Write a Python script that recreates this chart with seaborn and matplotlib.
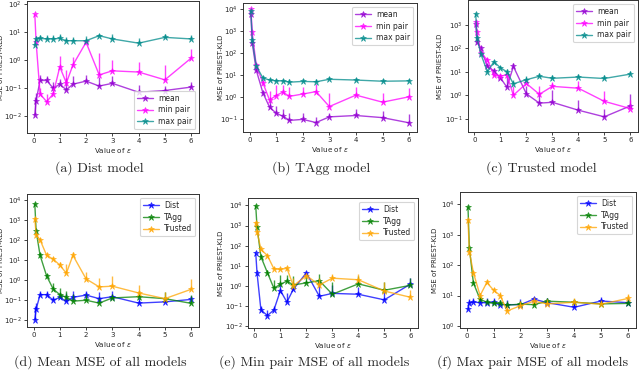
import numpy as np
import matplotlib
matplotlib.use("Agg")
import matplotlib.pyplot as plt
import seaborn as sns

sns.set_theme(style="ticks", context="paper")
plt.rcParams['font.family'] = ['DejaVu Sans']

eps = [0.05, 0.1, 0.25, 0.5, 0.75, 1, 1.25, 1.5, 2, 2.5, 3, 4, 5, 6]

# Dist model
dist_mean = [0.011, 0.036, 0.19, 0.19, 0.10, 0.14, 0.087, 0.14, 0.18, 0.12, 0.15, 0.072, 0.083, 0.11]
dist_mean_up = [0.05, 0.07, 0.3, 0.28, 0.17, 0.22, 0.23, 0.28, 0.3, 0.25, 0.28, 0.13, 0.12, 0.17]
dist_min = [44, 4.4, 0.063, 0.033, 0.063, 0.58, 0.155, 0.68, 4.4, 0.30, 0.42, 0.38, 0.2, 1.2]
dist_min_up = [44, 4.4, 0.1, 0.06, 0.1, 1.4, 0.45, 1.3, 5.0, 1.8, 1.05, 0.87, 0.66, 2.5]
dist_max = [3.5, 5.8, 6.1, 5.8, 5.8, 6.1, 5.0, 5.0, 5.0, 7.6, 5.8, 4.1, 6.6, 5.8]
dist_max_up = [4.0, 7.5, 8, 8, 8, 8.5, 7, 7, 7.5, 9, 8.5, 6.5, 9, 8]

# TAgg model
tagg_mean = [6000, 280, 17, 1.6, 0.36, 0.19, 0.14, 0.09, 0.1, 0.072, 0.13, 0.15, 0.12, 0.07]
tagg_mean_up = [7000, 350, 22, 2.0, 0.75, 0.4, 0.3, 0.2, 0.2, 0.13, 0.2, 0.3, 0.25, 0.18]
tagg_min = [9500, 850, 28, 4.5, 0.75, 1.2, 1.7, 1.1, 1.4, 1.8, 0.38, 1.25, 0.6, 1.05]
tagg_min_up = [10000, 1000, 35, 6, 2.0, 3.5, 3.5, 3.0, 3.0, 4.0, 1.5, 3.0, 1.6, 2.5]
tagg_max = [8000, 380, 26, 7.5, 6.0, 5.5, 5.5, 4.8, 5.2, 5.0, 6.5, 6.0, 5.3, 5.5]
tagg_max_up = [9000, 450, 30, 9, 7.5, 7, 7, 6.5, 6.5, 6.5, 8, 7.5, 6.8, 7]

# Trusted model
trus_mean = [1100, 180, 100, 17, 11, 5.6, 2.2, 17, 1.15, 0.46, 0.5, 0.23, 0.12, 0.35]
trus_mean_up = [1300, 220, 130, 22, 14, 8, 6, 25, 2.5, 1.3, 1.6, 0.6, 0.25, 1.1]
trus_min = [1400, 500, 65, 32, 7, 6.5, 7.5, 1.0, 3.2, 1.1, 2.4, 2.0, 0.55, 0.27]
trus_min_up = [1600, 600, 80, 40, 9, 8, 9, 2.5, 4.5, 2.5, 3.8, 4.0, 1.5, 0.6]
trus_max = [3000, 280, 57, 10, 27, 15, 10, 3.1, 4.6, 6.5, 5.3, 6.0, 5.2, 8.0]
trus_max_up = [3400, 330, 65, 12, 32, 18, 13, 4.5, 6.5, 9, 7.5, 8, 7, 11]

stat_labels = ['mean', 'min pair', 'max pair']
stat_colors = ['darkviolet', 'magenta', 'darkcyan']
model_labels = ['Dist', 'TAgg', 'Trusted']
model_colors = ['blue', 'green', 'orange']

captions = ['(a) Dist model', '(b) TAgg model', '(c) Trusted model',
            '(d) Mean MSE of all models', '(e) Min pair MSE of all models',
            '(f) Max pair MSE of all models']

W, H = 640, 371
fig = plt.figure(figsize=(W / 100, H / 100), dpi=100)


def px_axes(left, right, top, bottom):
    return fig.add_axes([left / W, 1 - bottom / H, (right - left) / W, (bottom - top) / H])


def draw(ax, series, labels, colors, ylim, loc, ylab_x, yticks):
    for (vals, up), lab, col in zip(series, labels, colors):
        vals = np.array(vals)
        up = np.array(up)
        sns.lineplot(x=eps, y=vals, ax=ax, color=col, label=lab, marker='*',
                     markersize=4.5, mec=col, mew=0.5, linewidth=1, alpha=0.75)
        ax.errorbar(eps, vals, yerr=[np.zeros_like(vals), up - vals], fmt='none',
                    ecolor=col, elinewidth=1, alpha=0.75)
    ax.set_yscale('log')
    ax.set_ylim(*ylim)
    ax.set_yticks([10.0 ** k for k in yticks])
    ax.set_xticks([0, 1, 2, 3, 4, 5, 6])
    ax.yaxis.set_minor_locator(matplotlib.ticker.NullLocator())
    ax.tick_params(labelsize=5, length=2.5, width=0.6, pad=1.2)
    ax.set_xlabel(r'Value of $\varepsilon$', fontsize=5.2, labelpad=1)
    ax.set_ylabel('MSE of PRIEST-KLD', fontsize=5)
    # place the y label at the same pixel column as in the source figure
    x0 = ax.get_position().x0 * W
    ax.yaxis.set_label_coords((ylab_x - x0) / (ax.get_position().width * W), 0.5)
    for s in ax.spines.values():
        s.set_linewidth(0.7)
        s.set_color('#333333')
    ax.legend(loc=loc, fontsize=5.5, frameon=True, handlelength=2.0,
              borderpad=0.4, labelspacing=0.35, handletextpad=0.7)


axes = [
    px_axes(27, 199, 1, 133),
    px_axes(243, 417, 3, 132),
    px_axes(468, 638, 0, 132),
    px_axes(27, 199, 194, 327),
    px_axes(248, 418, 198, 328),
    px_axes(460, 636, 192, 328),
]

draw(axes[0], [(dist_mean, dist_mean_up), (dist_min, dist_min_up), (dist_max, dist_max_up)],
     stat_labels, stat_colors, (10 ** -2.6, 10 ** 2.12), 'lower right', 4.5, range(-2, 3))
draw(axes[1], [(tagg_mean, tagg_mean_up), (tagg_min, tagg_min_up), (tagg_max, tagg_max_up)],
     stat_labels, stat_colors, (10 ** -1.57, 10 ** 4.26), 'upper right', 224, range(-1, 5))
draw(axes[2], [(trus_mean, trus_mean_up), (trus_min, trus_min_up), (trus_max, trus_max_up)],
     stat_labels, stat_colors, (10 ** -1.57, 10 ** 4.07), 'upper right', 443, range(-1, 4))
draw(axes[3], [(dist_mean, dist_mean_up), (tagg_mean, tagg_mean_up), (trus_mean, trus_mean_up)],
     model_labels, model_colors, (10 ** -2.33, 10 ** 4.28), 'upper right', 4.5, range(-2, 5))
draw(axes[4], [(dist_min, dist_min_up), (tagg_min, tagg_min_up), (trus_min, trus_min_up)],
     model_labels, model_colors, (10 ** -2.1, 10 ** 4.37), 'upper right', 224, range(-2, 5))
draw(axes[5], [(dist_max, dist_max_up), (tagg_max, tagg_max_up), (trus_max, trus_max_up)],
     model_labels, model_colors, (10 ** -0.07, 10 ** 4.41), 'upper right', 438, range(0, 5))

cap_pos = [(99, 168), (321, 168), (541, 168), (100, 362), (314, 362), (533, 362)]
for (cx, cy), text in zip(cap_pos, captions):
    fig.text(cx / W, 1 - cy / H, text, ha='center', va='center', fontsize=10,
             family=['cmr10', 'DejaVu Serif'])

fig.savefig('out.png', dpi=100)
